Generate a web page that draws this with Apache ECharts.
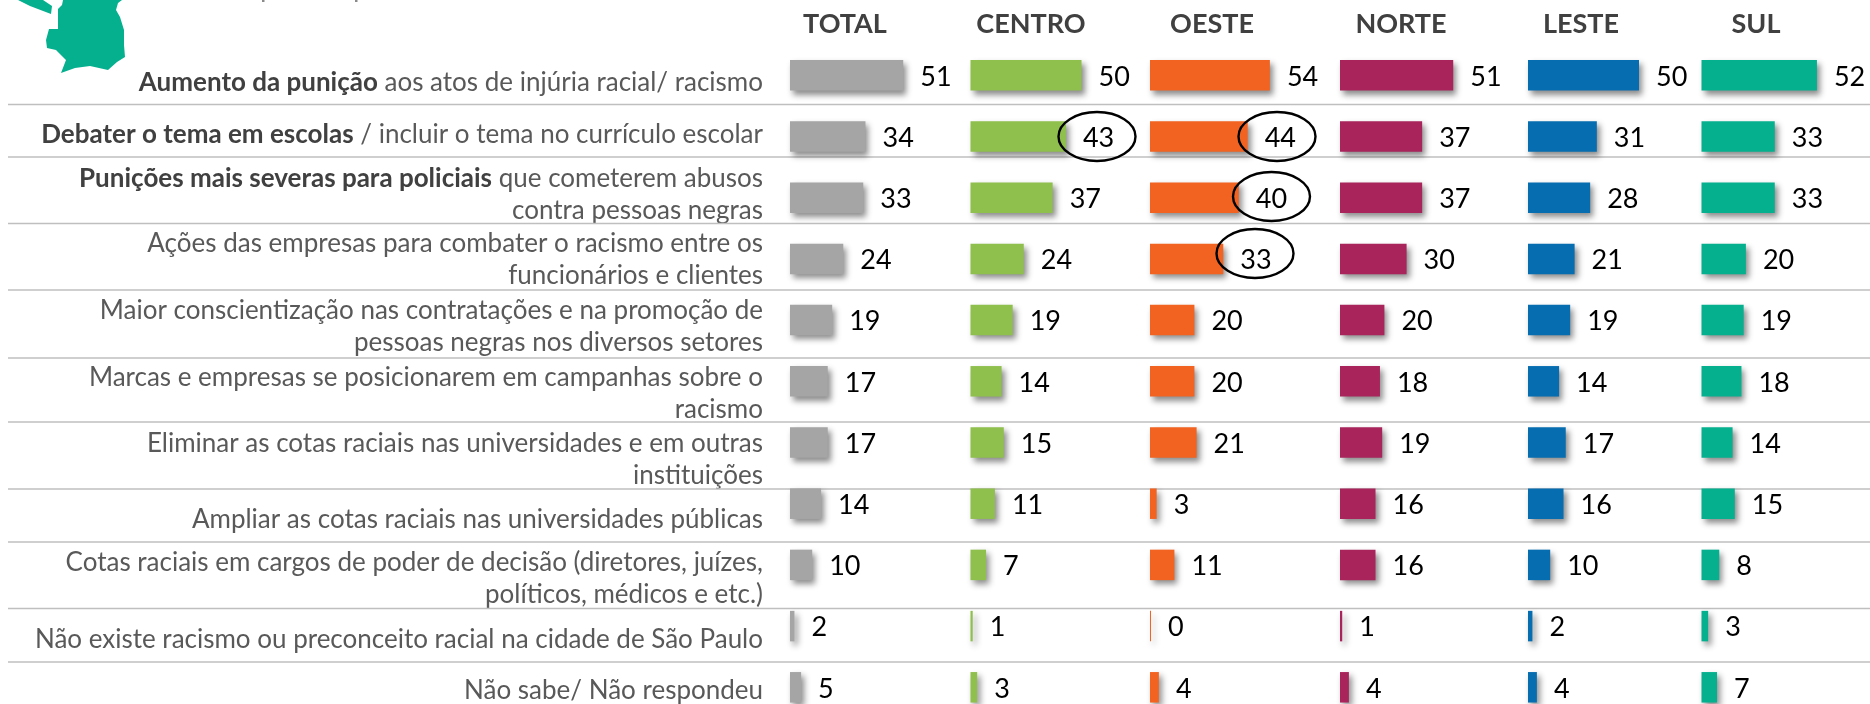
<!DOCTYPE html>
<html>
<head>
<meta charset="utf-8">
<style>html,body{margin:0;padding:0;background:#fff}#c{width:1870px;height:704px}</style>
<script src="https://cdn.jsdelivr.net/npm/echarts@6/dist/echarts.min.js"></script>
</head>
<body>
<div id="c"></div>
<script>
const regions = ['TOTAL','CENTRO','OESTE','NORTE','LESTE','SUL'];
const categories = [
  '{b|Aumento da punição} aos atos de injúria racial/ racismo',
  '{b|Debater o tema em escolas} / incluir o tema no currículo escolar',
  '{b|Punições mais severas para policiais} que cometerem abusos\ncontra pessoas negras',
  'Ações das empresas para combater o racismo entre os\nfuncionários e clientes',
  'Maior conscientização nas contratações e na promoção de\npessoas negras nos diversos setores',
  'Marcas e empresas se posicionarem em campanhas sobre o\nracismo',
  'Eliminar as cotas raciais nas universidades e em outras\ninstituições',
  'Ampliar as cotas raciais nas universidades públicas',
  'Cotas raciais em cargos de poder de decisão (diretores, juízes,\npolíticos, médicos e etc.)',
  'Não existe racismo ou preconceito racial na cidade de São Paulo',
  'Não sabe/ Não respondeu'
];
const total  = [51,34,33,24,19,17,17,14,10,2,5];
const centro = [50,43,37,24,19,14,15,11,7,1,3];
const oeste  = [54,44,40,33,20,20,21,3,11,0,4];
const norte  = [51,37,37,30,20,18,19,16,16,1,4];
const leste  = [50,31,28,21,19,14,17,16,10,2,4];
const sul    = [52,33,33,20,19,18,14,15,8,3,7];
const values = [total,centro,oeste,norte,leste,sul];
const colors = ['#A5A5A5','#8FBF4D','#F26322','#A9245B','#066DB0','#05B08F'];

// layout (pixels), separate from the data
const gridLefts = [790,970.5,1150,1340,1528,1701.5];
const headerCenters = [845,1031,1212,1401,1581,1756];
const labelShift = [7,-2,-3.5,1,6.5,12,17,15.5,14,13.5,3.5];
const dividers = [104.5,157,223.5,290,358,422,489,542,608.5,662];
const circles = [[1097,136.5],[1277,136.5],[1271.5,196.5],[1255,253.5]];
const mapBody = [[63,0],[62,5],[58,9],[58,29],[49,29],[46,40],[47,48],[56,50],[66,60],[61,73],[75,68],[90,66],[108,70],[117,62],[125,57],[124,45],[124,30],[120,17],[116,10],[118,3],[122,0]];
const mapSliver = [[18,0],[30,6],[51,14],[52,6],[43,0]];
const clippedTextMarks = [262,355];

const FONT = 'Lato';
const FIRST_ROW = 75.3, LAST_ROW = 687.3, SCALE = 2.22, AX_MAX = 60;

const grids = [], xAxes = [], yAxes = [], series = [];
regions.forEach((r,i)=>{
  grids.push({left:gridLefts[i],top:FIRST_ROW,width:AX_MAX*SCALE,height:LAST_ROW-FIRST_ROW,outerBoundsMode:'none'});
  xAxes.push({gridIndex:i,type:'value',min:0,max:AX_MAX,show:false});
  yAxes.push({
    gridIndex:i,type:'category',inverse:true,boundaryGap:false,
    data: categories.map((c,k)=>({value:c,textStyle:{padding:labelShift[k]>=0?[2*labelShift[k],0,0,0]:[0,0,-2*labelShift[k],0]}})),
    axisLine:{show:false},axisTick:{show:false},splitLine:{show:false},
    axisLabel: i===0 ? {
      show:true,interval:0,margin:27,align:'right',verticalAlign:'middle',
      fontFamily:FONT,fontSize:26,lineHeight:32,color:'#595959',
      rich:{b:{fontFamily:FONT,fontSize:26,lineHeight:32,fontWeight:'bold',color:'#404040'}}
    } : {show:false}
  });
  series.push({
    type:'bar',name:r,xAxisIndex:i,yAxisIndex:i,data:values[i],
    barWidth:30.5,barMinHeight:1,clip:false,
    itemStyle:{color:colors[i],shadowColor:'rgba(0,0,0,0.45)',shadowBlur:6,shadowOffsetX:3,shadowOffsetY:4},
    label:{show:true,position:'right',distance:17,fontFamily:FONT,fontSize:27,color:'#000',offset:[0,1.5]},
    silent:true,animation:false,z:3
  });
});

const graphic = [];
dividers.forEach(y=>graphic.push({type:'line',z:1,silent:true,shape:{x1:8,y1:y,x2:1870,y2:y},style:{stroke:'#BFBFBF',lineWidth:1.5}}));
regions.forEach((r,i)=>graphic.push({type:'text',z:5,silent:true,x:headerCenters[i],y:24,style:{text:r,fontFamily:FONT,fontSize:27,fontWeight:'bold',fill:'#404040',align:'center',verticalAlign:'middle'}}));
circles.forEach(c=>graphic.push({type:'ellipse',z:6,silent:true,shape:{cx:c[0],cy:c[1],rx:38.5,ry:24.5},style:{fill:'none',stroke:'#000',lineWidth:2.4}}));
[mapBody,mapSliver].forEach(p=>graphic.push({type:'polygon',z:4,silent:true,shape:{points:p},style:{fill:'#05B08F'}}));
clippedTextMarks.forEach(x=>graphic.push({type:'rect',z:4,silent:true,shape:{x:x,y:0,width:2.5,height:2},style:{fill:'#8a8a8a'}}));

const chart = echarts.init(document.getElementById('c'),null,{renderer:'canvas'});
chart.setOption({animation:false,backgroundColor:'#fff',grid:grids,xAxis:xAxes,yAxis:yAxes,series,graphic:{elements:graphic}});
</script>
</body>
</html>
